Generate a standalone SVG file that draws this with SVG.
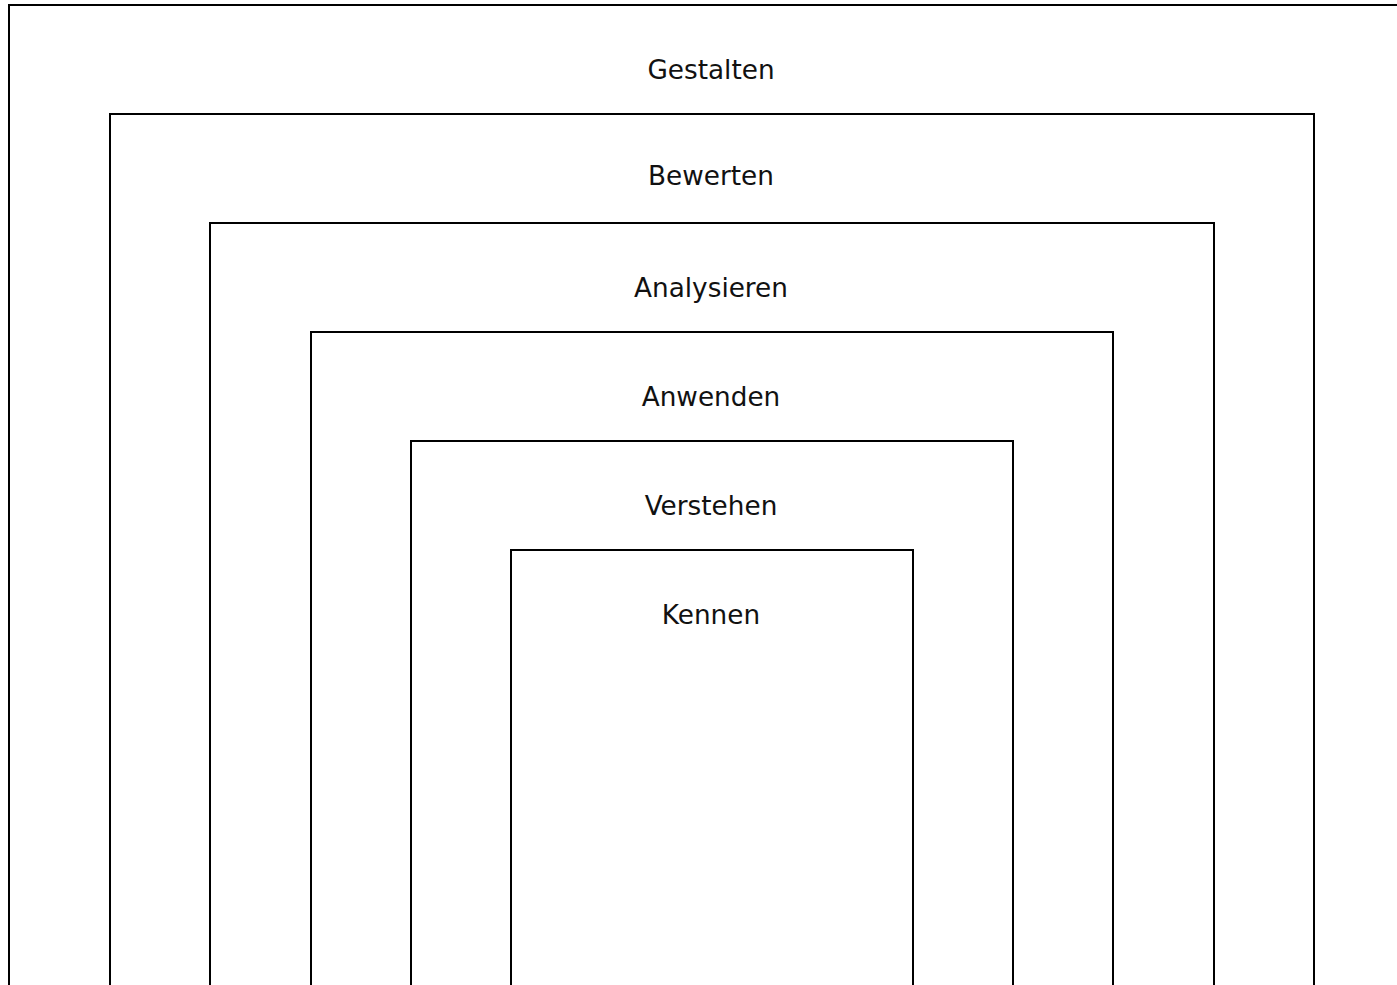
<svg xmlns="http://www.w3.org/2000/svg" width="1397" height="985" viewBox="0 0 1397 985">
<style>
.box{fill:none;stroke:#000;stroke-width:2}
.lbl{font-family:"DejaVu Sans",Verdana,sans-serif;font-size:26.3px;fill:#111;text-anchor:middle}
</style>
<rect x="0" y="0" width="1397" height="985" fill="#fff"/>
<g id="gestalten"><rect class="box" x="9" y="5" width="1406" height="1100"/><text class="lbl" x="711" y="79">Gestalten</text></g>
<g id="bewerten"><rect class="box" x="110" y="114" width="1204" height="1000"/><text class="lbl" x="711" y="185">Bewerten</text></g>
<g id="analysieren"><rect class="box" x="210" y="223" width="1004" height="900"/><text class="lbl" x="711" y="297">Analysieren</text></g>
<g id="anwenden"><rect class="box" x="311" y="332" width="802" height="800"/><text class="lbl" x="711" y="406">Anwenden</text></g>
<g id="verstehen"><rect class="box" x="411" y="441" width="602" height="700"/><text class="lbl" x="711" y="515">Verstehen</text></g>
<g id="kennen"><rect class="box" x="511" y="550" width="402" height="600"/><text class="lbl" x="711" y="624">Kennen</text></g>
<g id="connectors"></g>
</svg>
